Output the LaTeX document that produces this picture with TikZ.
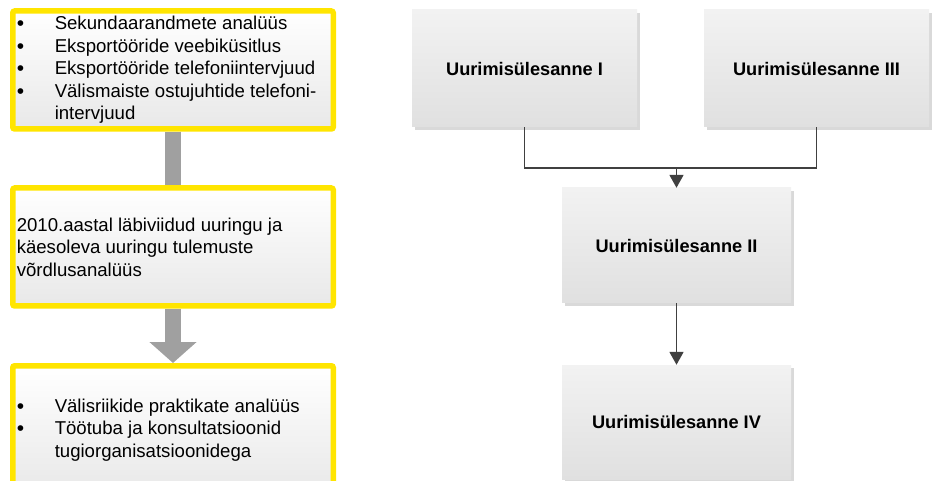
\documentclass[tikz,border=0pt]{standalone}
\usepackage{fontspec}
\setmainfont{Liberation Sans}
\usepackage{xcolor}
\definecolor{methyellow}{RGB}{255, 229, 0}
\definecolor{methgray}{RGB}{232, 232, 232}
\definecolor{bargray}{RGB}{160, 160, 160}
\definecolor{tasktop}{RGB}{242, 242, 242}
\definecolor{taskbottom}{RGB}{224, 224, 224}
\definecolor{linkdark}{RGB}{64, 64, 64}
\usetikzlibrary{arrows.meta,shadows}
% bullet item and its continuation line
\newcommand{\bulletitem}{\makebox[38pt][l]{\raisebox{-0.8pt}{\fontsize{21}{21}\selectfont\textbullet}}}
\newcommand{\bulletcont}{\hspace*{38pt}}
\tikzset{
  % --- LEFT COLUMN (methods) ---
  method-box/.style={
    draw=methyellow,
    line width=5.5pt,
    rounded corners=2pt,
    top color=white,
    bottom color=methgray,
    minimum width=320.5pt,
    minimum height=118pt,
    inner xsep=4pt,
    font=\fontsize{18.6}{22.5}\selectfont
  },
  bar/.style={
    draw=bargray,
    line width=15.5pt
  },
  bar-arrw/.style={
    bar,
    -{Triangle[width=46pt,length=21pt]}
  },
  % --- RIGHT COLUMN (tasks) ---
  task-box/.style={
    top color=tasktop,
    bottom color=taskbottom,
    drop shadow={shadow xshift=3pt, shadow yshift=-3pt, fill=black!15, opacity=1},
    minimum width=225pt,
    minimum height=117pt,
    font=\fontsize{18.2}{22}\selectfont\bfseries
  },
  link/.style={
    draw=linkdark,
    line width=1.8pt
  },
  arrw/.style={
    link,
    -{Triangle[width=14pt,length=13pt]}
  },
}

\begin{document}
\begin{tikzpicture}[x=1pt,y=-1pt]

  \clip (0,0) rectangle (935,481);

  % --- methods
  \node[method-box] (data) at (173,70) {\parbox{312.5pt}{%
    \bulletitem Sekundaarandmete analüüs\\
    \bulletitem Eksportööride veebiküsitlus\\
    \bulletitem Eksportööride telefoniintervjuud\\
    \bulletitem Välismaiste ostujuhtide telefoni-\\
    \bulletcont intervjuud}};
  \node[method-box] (compare) at (173,247) {\parbox{312.5pt}{%
    2010.aastal läbiviidud uuringu ja\\
    käesoleva uuringu tulemuste\\
    võrdlusanalüüs}};
  \node[method-box, minimum height=128.5pt] (practice) at (173,430) {\parbox{312.5pt}{%
    \bulletitem Välisriikide praktikate analüüs\\
    \bulletitem Töötuba ja konsultatsioonid\\
    \bulletcont tugiorganisatsioonidega}};
  \draw[bar] (data.south) -- (compare.north);
  \draw[bar-arrw] (compare.south) -- (practice.north);

  % --- tasks
  \node[task-box] (task1) at (524.5,68.5) {Uurimisülesanne I};
  \node[task-box] (task3) at (816.5,68.5) {Uurimisülesanne III};
  \node[task-box, minimum width=229pt, minimum height=115pt] (task2) at (676.5,245.5) {Uurimisülesanne II};
  \node[task-box, minimum width=229pt, minimum height=114pt] (task4) at (676.5,422) {Uurimisülesanne IV};
  \coordinate (join) at (676.5,168);
  \draw[link] (task1.south) |- (join) -| (task3.south);
  \draw[arrw] (join) -- (task2.north);
  \draw[arrw] (task2.south) -- (task4.north);

\end{tikzpicture}
\end{document}
